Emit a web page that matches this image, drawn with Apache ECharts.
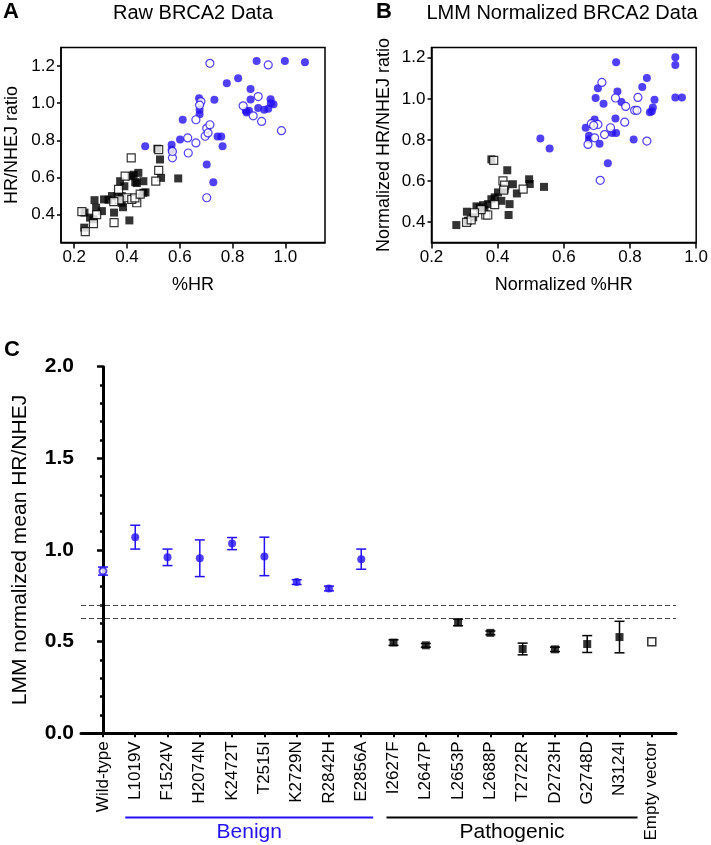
<!DOCTYPE html>
<html>
<head>
<meta charset="utf-8">
<script src="https://cdn.jsdelivr.net/npm/echarts@6/dist/echarts.min.js"></script>
<style>
  html, body { margin: 0; padding: 0; background: #fff; }
  #main { width: 711px; height: 845px; }
</style>
</head>
<body>
<div id="main"></div>
<script>
// 面板A：原始数据 [%HR, HR/NHEJ]
var rawBenignFilled = [[0.469,0.768],[0.569,0.777],[0.569,0.75],[0.601,0.804],[0.611,0.911],[0.673,1.027],[0.675,0.965],[0.675,0.94],[0.731,1.018],[0.743,0.821],[0.757,0.821],[0.762,0.768],[0.702,0.67],[0.727,0.575],[0.778,1.108],[0.821,1.135],[0.868,1.076],[0.868,1.02],[0.853,0.95],[0.862,0.96],[0.891,1.227],[0.897,0.974],[0.92,0.965],[0.944,1.022],[0.955,0.995],[0.935,0.97],[0.998,1.227],[1.074,1.22],[0.945,1.0],[0.85,0.96]];
var rawBenignOpen = [[0.714,1.215],[0.935,1.206],[0.572,0.706],[0.572,0.74],[0.632,0.732],[0.63,0.813],[0.661,0.786],[0.661,0.911],[0.68,1.009],[0.696,0.822],[0.702,0.865],[0.714,0.884],[0.702,0.491],[0.84,0.986],[0.878,0.932],[0.897,1.036],[0.91,0.902],[0.985,0.852],[0.707,0.84],[0.675,0.99]];
var rawPathFilled = [[0.238,0.33],[0.239,0.411],[0.26,0.384],[0.273,0.375],[0.277,0.478],[0.283,0.437],[0.305,0.419],[0.313,0.482],[0.343,0.5],[0.351,0.411],[0.374,0.58],[0.39,0.553],[0.38,0.464],[0.385,0.44],[0.409,0.369],[0.416,0.607],[0.443,0.625],[0.431,0.575],[0.462,0.58],[0.462,0.518],[0.47,0.52],[0.515,0.755],[0.525,0.697],[0.529,0.598],[0.594,0.595],[0.364,0.5],[0.38,0.5],[0.437,0.57],[0.425,0.615],[0.33,0.48]];
var rawPathOpen = [[0.229,0.416],[0.242,0.309],[0.273,0.352],[0.351,0.357],[0.416,0.706],[0.52,0.638],[0.509,0.58],[0.52,0.75],[0.393,0.607],[0.368,0.536],[0.399,0.491],[0.437,0.464],[0.418,0.482],[0.43,0.49],[0.37,0.48],[0.35,0.47],[0.285,0.4],[0.45,0.51]];

// 面板B：LMM 归一化数据
var normBenignFilled = [[0.529,0.807],[0.557,0.758],[0.758,1.178],[0.937,1.202],[0.937,1.165],[0.851,1.101],[0.837,1.057],[0.703,1.052],[0.762,1.036],[0.696,1.004],[0.72,0.976],[0.774,0.984],[0.874,0.996],[0.869,0.958],[0.866,0.94],[0.86,0.935],[0.937,1.007],[0.957,1.007],[0.693,0.899],[0.756,0.904],[0.666,0.859],[0.676,0.802],[0.676,0.82],[0.708,0.781],[0.746,0.834],[0.758,0.834],[0.811,0.802],[0.733,0.686]];
var normBenignOpen = [[0.715,1.08],[0.756,1.004],[0.824,1.007],[0.787,0.963],[0.814,0.944],[0.821,0.944],[0.683,0.879],[0.703,0.875],[0.741,0.859],[0.784,0.886],[0.723,0.826],[0.693,0.81],[0.673,0.778],[0.851,0.794],[0.71,0.603],[0.69,0.87]];
var normPathFilled = [[0.275,0.385],[0.307,0.45],[0.31,0.406],[0.326,0.423],[0.336,0.476],[0.356,0.482],[0.371,0.487],[0.381,0.705],[0.391,0.52],[0.401,0.544],[0.429,0.652],[0.421,0.56],[0.411,0.503],[0.433,0.434],[0.436,0.487],[0.446,0.584],[0.458,0.539],[0.495,0.608],[0.497,0.585],[0.54,0.571],[0.381,0.511],[0.346,0.47],[0.36,0.46]];
var normPathOpen = [[0.306,0.398],[0.32,0.41],[0.364,0.434],[0.37,0.434],[0.416,0.6],[0.421,0.58],[0.418,0.555],[0.477,0.56],[0.391,0.485],[0.35,0.46],[0.33,0.445],[0.388,0.7]];

// 面板C：各变体均值与误差
var cCategories = ['Wild-type','L1019V','F1524V','H2074N','K2472T','T2515I','K2729N','R2842H','E2856A','I2627F','L2647P','L2653P','L2688P','T2722R','D2723H','G2748D','N3124I','Empty vector'];
var cMean = [0.885,1.07,0.96,0.955,1.035,0.965,0.825,0.79,0.95,0.495,0.48,0.605,0.548,0.46,0.458,0.487,0.525,0.5];
var cErr = [0.022,0.065,0.045,0.1,0.033,0.105,0.013,0.013,0.055,0.015,0.01,0.018,0.01,0.032,0.012,0.046,0.086,0];
var cGroup = ['wt','benign','benign','benign','benign','benign','benign','benign','benign','path','path','path','path','path','path','path','path','empty'];
var cThresholds = [0.7, 0.625];
var groupNames = ['Benign', 'Pathogenic'];
var groupStart = [1, 9];
var groupEnd = [8, 16];

var BLUE = '#2410f5';
var FONT = '"Liberation Sans", Arial, sans-serif';

var myChart = echarts.init(document.getElementById('main'));

function fmt1(v) { return Number(v).toFixed(1); }
var ticksA_x = [0.2, 0.4, 0.6, 0.8, 1.0];
var ticksY = [0.4, 0.6, 0.8, 1.0, 1.2];
var idx = cCategories.map(function (c, i) { return i; });

function scatterAxisX(gi, min, max, name) {
    return {
        gridIndex: gi, type: 'value', min: min, max: max,
        name: name, nameLocation: 'middle', nameGap: 34,
        nameTextStyle: { fontSize: 18, color: '#000' },
        axisLine: { show: true, lineStyle: { color: '#000', width: 1.5 } },
        axisTick: { show: true, length: 6, customValues: ticksA_x, lineStyle: { color: '#000', width: 1.5 } },
        axisLabel: { customValues: ticksA_x, formatter: fmt1, fontSize: 17, color: '#000', margin: 6 },
        splitLine: { show: false }
    };
}
function scatterAxisY(gi, min, max, name, gap) {
    return {
        gridIndex: gi, type: 'value', min: min, max: max,
        name: name, nameLocation: 'middle', nameGap: gap,
        nameTextStyle: { fontSize: 18, color: '#000' },
        axisLine: { show: true, lineStyle: { color: '#000', width: 1.5 } },
        axisTick: { show: true, length: 4, customValues: ticksY, lineStyle: { color: '#000', width: 1.5 } },
        axisLabel: { customValues: ticksY, formatter: fmt1, fontSize: 17, color: '#000', margin: 6 },
        splitLine: { show: false }
    };
}
function pts(gi, data, symbol, filled, color) {
    return {
        type: 'scatter', xAxisIndex: gi, yAxisIndex: gi, data: data,
        symbol: symbol, symbolSize: 8,
        itemStyle: filled ? { color: color } : { color: '#fff', borderColor: color, borderWidth: 1.2 }
    };
}

// 面板C 每组的点
function groupData(g) {
    var out = [];
    cMean.forEach(function (m, i) { if (cGroup[i] === g) out.push([i, m]); });
    return out;
}

option = {
    animation: false,
    textStyle: { fontFamily: FONT },
    grid: [
        { left: 61, top: 47.5, width: 264, height: 195, show: true, borderColor: '#000', borderWidth: 1.5 },
        { left: 431.5, top: 47.5, width: 265, height: 195, show: true, borderColor: '#000', borderWidth: 1.5 },
        { left: 81, top: 366.7, width: 595, height: 366.6 }
    ],
    xAxis: [
        scatterAxisX(0, 0.15, 1.15, '%HR'),
        scatterAxisX(1, 0.2, 1.0, 'Normalized %HR'),
        {
            gridIndex: 2, type: 'value', min: -0.68, max: 17.75,
            axisLine: { show: true, lineStyle: { color: '#000', width: 3 } },
            axisTick: { show: true, length: 4, customValues: idx, lineStyle: { color: '#000', width: 2 } },
            axisLabel: {
                customValues: idx, rotate: 90, fontSize: 17, color: '#000', margin: 8,
                formatter: function (v) { return cCategories[Math.round(v)]; }
            },
            splitLine: { show: false }
        }
    ],
    yAxis: [
        scatterAxisY(0, 0.25, 1.3, 'HR/NHEJ ratio', 40),
        scatterAxisY(1, 0.3, 1.25, 'Normalized HR/NHEJ ratio', 38),
        {
            gridIndex: 2, type: 'value', min: 0, max: 2, interval: 0.5,
            name: 'LMM normalized mean HR/NHEJ', nameLocation: 'middle', nameGap: 50,
            nameTextStyle: { fontSize: 21, color: '#000' },
            axisLine: { show: true, lineStyle: { color: '#000', width: 3 } },
            axisTick: { show: true, length: 6, lineStyle: { color: '#000', width: 2.5 } },
            minorTick: { show: true, splitNumber: 5, length: 3, lineStyle: { color: '#000', width: 2.5 } },
            axisLabel: { formatter: fmt1, fontSize: 21, fontWeight: 'bold', color: '#000', margin: 7 },
            splitLine: { show: false }
        }
    ],
    series: [
        pts(0, rawPathFilled, 'rect', true, '#000'),
        pts(0, rawPathOpen, 'rect', false, '#000'),
        pts(0, rawBenignFilled, 'circle', true, BLUE),
        pts(0, rawBenignOpen, 'circle', false, BLUE),
        pts(1, normPathFilled, 'rect', true, '#000'),
        pts(1, normPathOpen, 'rect', false, '#000'),
        pts(1, normBenignFilled, 'circle', true, BLUE),
        pts(1, normBenignOpen, 'circle', false, BLUE),
        {
            type: 'custom', xAxisIndex: 2, yAxisIndex: 2,
            data: cMean.map(function (m, i) { return [i, m, cErr[i]]; }),
            renderItem: function (params, api) {
                var i = api.value(0), m = api.value(1), e = api.value(2);
                if (!e) return null;
                var top = api.coord([i, m + e]);
                var bot = api.coord([i, m - e]);
                var col = (cGroup[i] === 'path' || cGroup[i] === 'empty') ? '#000' : BLUE;
                var st = { stroke: col, lineWidth: 1.5 };
                return {
                    type: 'group',
                    children: [
                        { type: 'line', shape: { x1: top[0], y1: top[1], x2: bot[0], y2: bot[1] }, style: st },
                        { type: 'line', shape: { x1: top[0] - 5, y1: top[1], x2: top[0] + 5, y2: top[1] }, style: st },
                        { type: 'line', shape: { x1: bot[0] - 5, y1: bot[1], x2: bot[0] + 5, y2: bot[1] }, style: st }
                    ]
                };
            },
            markLine: {
                silent: true, symbol: 'none', label: { show: false },
                lineStyle: { color: '#444', type: [5, 3], width: 1.2 },
                data: cThresholds.map(function (t) { return { yAxis: t }; })
            }
        },
        { type: 'scatter', xAxisIndex: 2, yAxisIndex: 2, data: groupData('wt'), symbol: 'circle', symbolSize: 7, z: 5,
          itemStyle: { color: '#fff', borderColor: BLUE, borderWidth: 2 } },
        { type: 'scatter', xAxisIndex: 2, yAxisIndex: 2, data: groupData('benign'), symbol: 'circle', symbolSize: 8, z: 5,
          itemStyle: { color: BLUE } },
        { type: 'scatter', xAxisIndex: 2, yAxisIndex: 2, data: groupData('path'), symbol: 'rect', symbolSize: 8, z: 5,
          itemStyle: { color: '#000' } },
        { type: 'scatter', xAxisIndex: 2, yAxisIndex: 2, data: groupData('empty'), symbol: 'rect', symbolSize: 8, z: 5,
          itemStyle: { color: '#fff', borderColor: '#000', borderWidth: 1.5 } }
    ]
};

myChart.setOption(option);

// 面板标题与分组注释
var graphics = [
    { type: 'text', x: 11, y: 12, style: { text: 'A', font: 'bold 22px ' + FONT, fill: '#000', align: 'center', verticalAlign: 'middle' } },
    { type: 'text', x: 193, y: 13, style: { text: 'Raw BRCA2 Data', font: '20px ' + FONT, fill: '#000', align: 'center', verticalAlign: 'middle' } },
    { type: 'text', x: 384, y: 12, style: { text: 'B', font: 'bold 22px ' + FONT, fill: '#000', align: 'center', verticalAlign: 'middle' } },
    { type: 'text', x: 562, y: 13, style: { text: 'LMM Normalized BRCA2 Data', font: '20px ' + FONT, fill: '#000', align: 'center', verticalAlign: 'middle' } },
    { type: 'text', x: 12, y: 350, style: { text: 'C', font: 'bold 22px ' + FONT, fill: '#000', align: 'center', verticalAlign: 'middle' } }
];
var padL = [10, 7], padR = [12, 18], gColor = [BLUE, '#000'];
groupNames.forEach(function (name, k) {
    var x1 = myChart.convertToPixel({ xAxisIndex: 2 }, groupStart[k]) - padL[k];
    var x2 = myChart.convertToPixel({ xAxisIndex: 2 }, groupEnd[k]) + padR[k];
    graphics.push({ type: 'line', shape: { x1: x1, y1: 817.5, x2: x2, y2: 817.5 }, style: { stroke: gColor[k], lineWidth: 2 } });
    graphics.push({ type: 'text', x: (x1 + x2) / 2, y: 832, style: { text: name, font: '21px ' + FONT, fill: gColor[k], align: 'center', verticalAlign: 'middle' } });
});
myChart.setOption({ graphic: graphics });
</script>
</body>
</html>
